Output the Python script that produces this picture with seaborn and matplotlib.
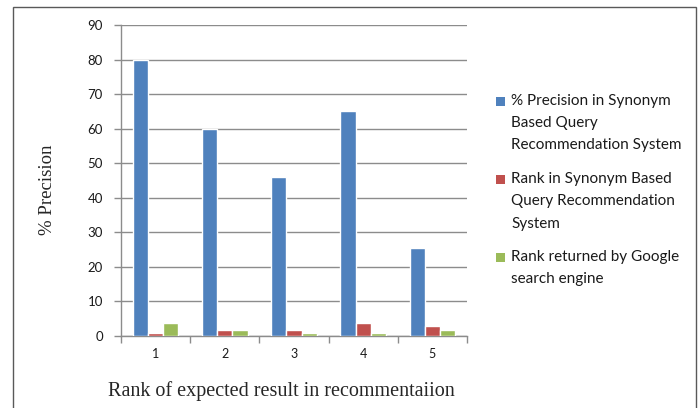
import matplotlib
matplotlib.use('Agg')
import matplotlib.pyplot as plt
from matplotlib.patches import Rectangle
import seaborn as sns
import pandas as pd

# values
ranks = ['1', '2', '3', '4', '5']
precision = [80, 60, 46, 65, 25.5]
rank_synonym = [1, 1.7, 1.7, 3.7, 2.8]
rank_google = [3.7, 1.7, 0.9, 0.9, 1.7]
series_names = ['% Precision in Synonym\nBased Query\nRecommendation System',
                'Rank in Synonym Based\nQuery Recommendation\nSystem',
                'Rank returned by Google\nsearch engine']
colors = ['#4F81BD', '#C0504D', '#9BBB59']

df = pd.DataFrame({
    'rank': ranks * 3,
    'value': precision + rank_synonym + rank_google,
    'series': [series_names[0]] * 5 + [series_names[1]] * 5 + [series_names[2]] * 5,
})

sns.set_style('white')
plt.rcParams['font.family'] = ['Lato', 'DejaVu Sans']

fig = plt.figure(figsize=(6.98, 4.08), dpi=100)
ax = fig.add_axes([121 / 698, 72 / 408, (467 - 121) / 698, (336 - 25) / 408])

sns.barplot(data=df, x='rank', y='value', hue='series', palette=colors,
            width=0.66, ax=ax, legend=False, saturation=1, zorder=3)

ax.set_ylim(0, 90)
ax.set_xlim(-0.5, 4.5)
ax.set_yticks(range(0, 91, 10))
ax.yaxis.grid(True, color='#8c8c8c', linewidth=1, zorder=0)
ax.set_axisbelow(True)

# tick marks at category boundaries, labels at centres
ax.set_xticks([i - 0.5 for i in range(6)], minor=True)
ax.tick_params(axis='x', which='minor', length=5, color='#8c8c8c', width=1, direction='out', bottom=True)
ax.tick_params(axis='x', which='major', length=0, pad=9, labelsize=9, labelcolor='#1a1a1a')
ax.tick_params(axis='y', length=5, color='#8c8c8c', width=1, direction='out', left=True,
               pad=8, labelsize=9.5, labelcolor='#1a1a1a')

for s in ['top', 'right']:
    ax.spines[s].set_visible(False)
for s in ['left', 'bottom']:
    ax.spines[s].set_color('#8c8c8c')
    ax.spines[s].set_linewidth(1)

ax.set_xlabel('')
ax.set_ylabel('')
fig.text(108 / 698, 1 - 391 / 408, 'Rank of expected result in recommentaiion',
         family='Liberation Serif', fontsize=14.5, va='center', ha='left')
fig.text(47 / 698, 1 - 190 / 408, '% Precision', family='Liberation Serif',
         fontsize=13.5, rotation=90, va='center', ha='center')

# legend drawn by hand so the swatch sits on the first line of each entry
entry_top = [94, 172, 250]
for name, c, top in zip(series_names, colors, entry_top):
    fig.patches.append(Rectangle((496 / 698, 1 - (top + 12) / 408), 9 / 698, 9 / 408,
                                 transform=fig.transFigure, facecolor=c, edgecolor='none'))
    fig.text(511 / 698, 1 - top / 408, name, fontsize=11, va='top', ha='left',
             linespacing=1.75, color='#1a1a1a')

# outer chart border
fig.patches.append(Rectangle((13 / 698, -0.1), (696 - 13) / 698, 0.1 + (408 - 7) / 408,
                             transform=fig.transFigure, fill=False,
                             edgecolor='#595959', linewidth=1))

fig.savefig('out.png', dpi=100)
